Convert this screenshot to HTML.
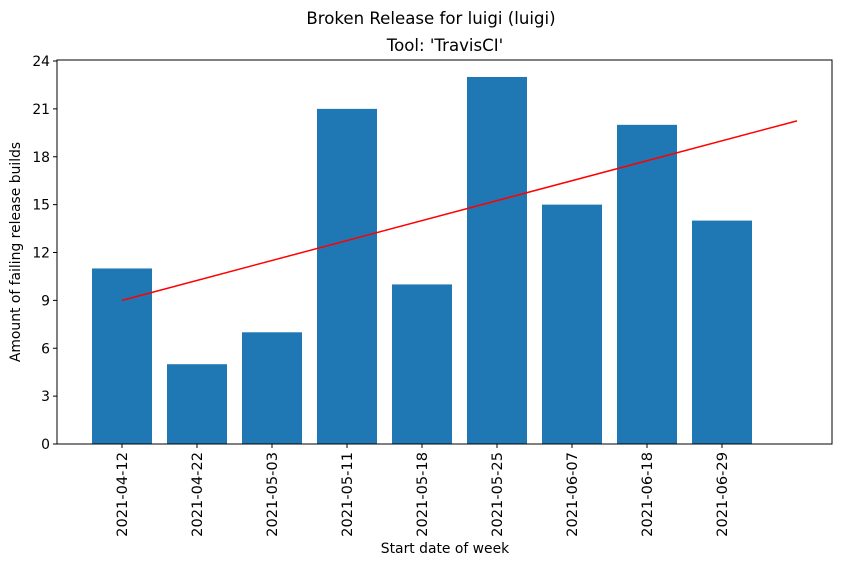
<!DOCTYPE html>
<html><head><meta charset="utf-8"><style>
body{margin:0;background:#fff;}
svg{display:block;font-family:"DejaVu Sans","Liberation Sans",sans-serif;}
</style></head><body>
<svg id="chart" width="842" height="564">
<text x="431" y="24" text-anchor="middle" font-size="16.6">Broken Release for luigi (luigi)</text>
<text x="445" y="51" text-anchor="middle" font-size="16.6">Tool: 'TravisCI'</text>
<text transform="translate(20,252) rotate(-90)" text-anchor="middle" font-size="13.9">Amount of failing release builds</text>
<text x="445" y="553" text-anchor="middle" font-size="13.9">Start date of week</text>
<g id="marks"></g>
<rect x="57" y="60" width="775" height="384" fill="none" stroke="#000" stroke-width="1"/>
</svg>
<script>
const categories=["2021-04-12","2021-04-22","2021-05-03","2021-05-11","2021-05-18","2021-05-25","2021-06-07","2021-06-18","2021-06-29"];
const values=[11,5,7,21,10,23,15,20,14];
const yTicks=[0,3,6,9,12,15,18,21,24];
const NS="http://www.w3.org/2000/svg";
const g=document.getElementById('marks');
const y=v=>444-v*(383/24);
const x=i=>122+75*i;
function el(t,a){const e=document.createElementNS(NS,t);for(const k in a)e.setAttribute(k,a[k]);g.appendChild(e);return e;}
values.forEach((v,i)=>{
  const r=el('rect',{x:x(i)-30,y:y(v),width:60,height:444-y(v),fill:'#1f77b4'});
  
  
});
categories.forEach((c,i)=>{
  el('line',{x1:x(i),x2:x(i),y1:444,y2:448,stroke:'#000'});
  const t=el('text',{transform:`translate(${x(i)+5},452) rotate(-90)`,'text-anchor':'end','font-size':'14.6'});
  t.textContent=c;
  
  
});
yTicks.forEach(v=>{
  el('line',{x1:53,x2:57,y1:y(v),y2:y(v),stroke:'#000'});
  const t=el('text',{x:50,y:y(v)+5,'text-anchor':'end','font-size':'13.9'});
  t.textContent=v;
  
  
});
const n=values.length;const mx=(n-1)/2;const my=values.reduce((a,b)=>a+b,0)/n;
let sxy=0,sxx=0;values.forEach((v,i)=>{sxy+=(i-mx)*(v-my);sxx+=(i-mx)*(i-mx);});
const slope=sxy/sxx,icpt=my-slope*mx;
const ln=el('line',{x1:x(0),y1:y(icpt),x2:x(n),y2:y(icpt+slope*n),stroke:'red','stroke-width':1.5});


</script>
</body></html>
